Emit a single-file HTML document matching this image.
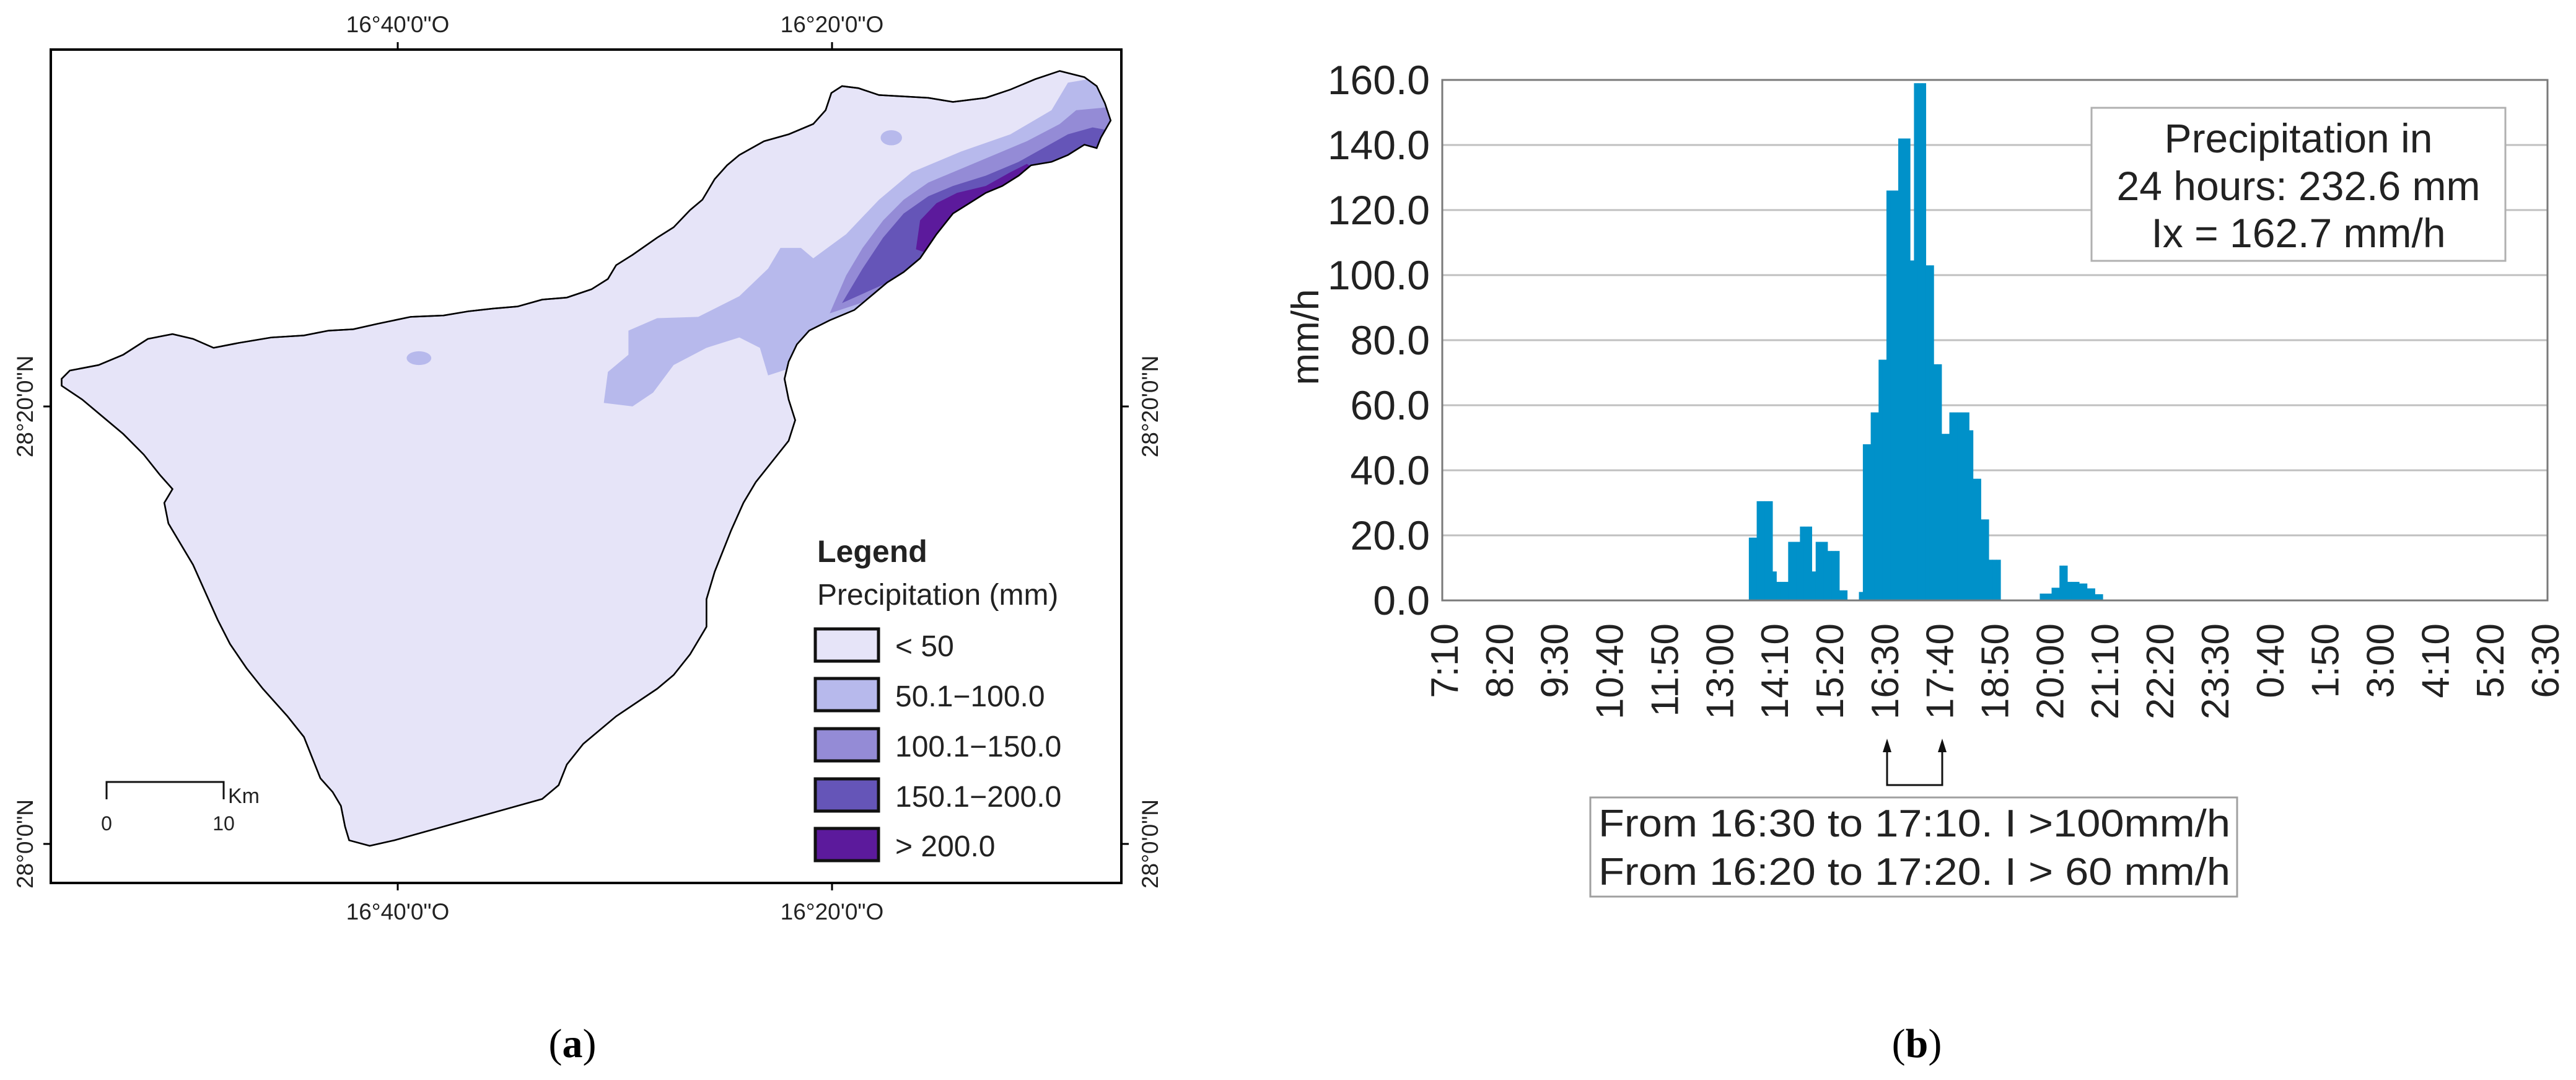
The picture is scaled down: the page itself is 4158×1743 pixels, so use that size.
<!DOCTYPE html>
<html><head><meta charset="utf-8"><style>
html,body{margin:0;padding:0;background:#fff;}
svg{display:block;font-family:"Liberation Sans",Arial,sans-serif;}
</style></head><body>
<svg id="root" width="4158" height="1743" viewBox="0 0 4158 1743" xmlns="http://www.w3.org/2000/svg">
<rect x="0" y="0" width="4158" height="1743" fill="#fff"/>
<defs>
<clipPath id="islandClip"><path id="islandShapeClip" d=""/></clipPath>
</defs>
<g>
  <g transform="scale(1.326,1.1116)">
    <path id="island" fill="#e6e4f8" stroke="#000" stroke-width="2.5" vector-effect="non-scaling-stroke" d=""/>
    <g clip-path="url(#islandClip)">
      <polygon fill="#b7b9ec" points="735,585 740,540 765,515 765,480 800,462 850,460 900,430 935,390 950,360 975,360 990,375 1030,340 1070,290 1110,250 1170,220 1230,195 1280,160 1300,120 1400,100 1400,300 1000,520 935,545 925,505 900,490 860,505 820,530 795,570 770,590"/>
      <ellipse fill="#b7b9ec" cx="1085" cy="200" rx="13" ry="11"/>
      <ellipse fill="#b7b9ec" cx="510" cy="520" rx="15" ry="10"/>
      <polygon fill="#948bd6" points="1010,455 1030,400 1050,360 1075,320 1100,290 1130,265 1170,245 1210,225 1250,205 1290,180 1310,160 1400,150 1400,300"/>
      <polygon fill="#6555b8" points="1025,440 1050,390 1075,345 1100,310 1130,285 1160,270 1200,255 1240,235 1270,215 1300,195 1330,185 1400,200 1400,300 1100,400"/>
      <polygon fill="#5c1a9c" points="1115,362 1120,320 1140,295 1165,280 1200,270 1230,250 1250,238 1268,252 1240,270 1210,285 1180,300 1160,320 1140,350 1130,368"/>
    </g>
    <path id="islandStroke" fill="none" stroke="#000" stroke-width="2.5" vector-effect="non-scaling-stroke" d=""/>
  </g>
  <rect x="82" y="80" width="1728" height="1345" fill="none" stroke="#000" stroke-width="4"/>
  <g stroke="#000" stroke-width="3">
    <line x1="642" y1="80" x2="642" y2="68"/><line x1="1343" y1="80" x2="1343" y2="68"/>
    <line x1="642" y1="1425" x2="642" y2="1437"/><line x1="1343" y1="1425" x2="1343" y2="1437"/>
    <line x1="82" y1="656" x2="70" y2="656"/><line x1="82" y1="1362" x2="70" y2="1362"/>
    <line x1="1810" y1="656" x2="1822" y2="656"/><line x1="1810" y1="1362" x2="1822" y2="1362"/>
  </g>
  <g font-size="37" fill="#222" text-anchor="middle">
    <text x="642" y="52">16°40'0"O</text>
    <text x="1343" y="52">16°20'0"O</text>
    <text x="642" y="1484">16°40'0"O</text>
    <text x="1343" y="1484">16°20'0"O</text>
    <text transform="translate(53,656) rotate(-90)">28°20'0"N</text>
    <text transform="translate(53,1362) rotate(-90)">28°0'0"N</text>
    <text transform="translate(1869,656) rotate(-90)">28°20'0"N</text>
    <text transform="translate(1869,1362) rotate(-90)">28°0'0"N</text>
  </g>
  <g fill="#222">
    <text x="1319" y="907" font-size="50" font-weight="bold">Legend</text>
    <text x="1319" y="976" font-size="48">Precipitation (mm)</text>
    <rect x="1316" y="1015" width="102" height="52" fill="#e6e4f8" stroke="#111" stroke-width="5"/>
    <rect x="1316" y="1095" width="102" height="52" fill="#b7b9ec" stroke="#111" stroke-width="5"/>
    <rect x="1316" y="1176" width="102" height="52" fill="#948bd6" stroke="#111" stroke-width="5"/>
    <rect x="1316" y="1257" width="102" height="52" fill="#6555b8" stroke="#111" stroke-width="5"/>
    <rect x="1316" y="1337" width="102" height="52" fill="#5c1a9c" stroke="#111" stroke-width="5"/>
    <text x="1445" y="1059" font-size="48">&lt; 50</text>
    <text x="1445" y="1140" font-size="48">50.1−100.0</text>
    <text x="1445" y="1221" font-size="48">100.1−150.0</text>
    <text x="1445" y="1302" font-size="48">150.1−200.0</text>
    <text x="1445" y="1382" font-size="48">&gt; 200.0</text>
  </g>
  <g fill="#222">
    <polyline points="172,1290 172,1262 361,1262 361,1290" fill="none" stroke="#111" stroke-width="3"/>
    <text x="368" y="1296" font-size="34">Km</text>
    <text x="172" y="1340" font-size="32" text-anchor="middle">0</text>
    <text x="361" y="1340" font-size="32" text-anchor="middle">10</text>
  </g>
  <text x="924" y="1706" font-size="66" text-anchor="middle" font-family="Liberation Serif,serif">(<tspan font-weight="bold">a</tspan>)</text>
</g>

<g id="chart"></g>
<text x="3094" y="1706" font-size="66" text-anchor="middle" font-family="Liberation Serif,serif">(<tspan font-weight="bold">b</tspan>)</text>
</svg>
<script>
var coast = [[75,550],[85,538],[120,530],[150,515],[180,492],[210,485],[235,492],[260,505],[290,498],[330,490],[370,487],[400,480],[430,478],[460,470],[500,460],[540,458],[570,452],[600,448],[630,445],[660,435],[690,432],[720,420],[740,405],[750,385],[770,370],[800,345],[820,330],[840,305],[855,290],[870,260],[885,240],[900,225],[930,205],[960,195],[990,180],[1005,160],[1012,135],[1025,125],[1045,128],[1070,138],[1100,140],[1130,142],[1160,148],[1200,142],[1230,130],[1260,115],[1290,103],[1320,112],[1335,125],[1345,150],[1352,175],[1340,200],[1335,215],[1320,210],[1300,225],[1280,235],[1255,240],[1240,255],[1220,270],[1200,280],[1180,295],[1160,310],[1140,340],[1120,375],[1100,395],[1080,410],[1060,430],[1040,450],[1010,465],[985,480],[970,500],[960,525],[955,550],[960,580],[968,610],[960,640],[940,670],[920,700],[905,730],[890,770],[880,800],[870,830],[860,870],[860,910],[840,950],[820,980],[800,1000],[775,1020],[750,1040],[730,1060],[710,1080],[690,1110],[680,1140],[660,1160],[630,1170],[600,1180],[570,1190],[540,1200],[510,1210],[480,1220],[450,1228],[425,1220],[420,1200],[415,1170],[405,1150],[390,1130],[380,1100],[370,1070],[350,1040],[320,1000],[300,970],[280,935],[265,900],[250,860],[235,820],[220,790],[205,760],[200,730],[210,710],[195,690],[175,660],[150,630],[125,605],[100,580],[75,560]];
var dPath = 'M' + coast.map(function(p){return p[0]+','+p[1];}).join(' L') + ' Z';
document.getElementById('island').setAttribute('d', dPath);
document.getElementById('islandStroke').setAttribute('d', dPath);
document.getElementById('islandShapeClip').setAttribute('d', dPath);

var yTicks = [0,20,40,60,80,100,120,140,160];
var xTickLabels = ["7:10","8:20","9:30","10:40","11:50","13:00","14:10","15:20","16:30","17:40","18:50","20:00","21:10","22:20","23:30","0:40","1:50","3:00","4:10","5:20","6:30"];
var binMinutes = 5;
var firstBinMinute = 387.5;
var rainRate = [19.3,19.3,30.5,30.5,30.5,30.5,8.9,5.7,5.7,5.7,18,18,18,22.7,22.7,22.7,8.9,18,18,18,15.2,15.2,15.2,3.1,3.1,0,0,0,2.6,48,48,57.8,57.8,74,74,126,126,126,142,142,142,104.5,159,159,159,103,103,72.6,72.6,51.2,51.2,57.8,57.8,57.8,57.8,57.8,52.3,37.4,37.4,24.9,24.9,12.5,12.5,12.5,0,0,0,0,0,0,0,0,0,0,2.1,2.1,2.1,3.9,3.9,10.7,10.7,5.7,5.7,5.7,5.2,5.2,3.7,3.7,1.9,1.9];

var NS = 'http://www.w3.org/2000/svg';
var chart = document.getElementById('chart');
var PL = 2328, PR = 4112, PT = 129, PB = 969;
var X0 = 2331, XSPAN = 1400, XW = 4108 - 2331;
var YMAX = 160;
function xs(m){ return X0 + m * XW / XSPAN; }
function ys(v){ return PB - v * (PB - PT) / YMAX; }
function mk(tag, attrs){ var e = document.createElementNS(NS, tag); for (var k in attrs) e.setAttribute(k, attrs[k]); return e; }

yTicks.forEach(function(v){
  if (v > 0) {
    var g = mk('line', {x1:PL, x2:PR, y1:ys(v), y2:ys(v), stroke:'#c0c0c0', 'stroke-width':3});
    
    
    chart.appendChild(g);
  }
  var t = mk('text', {x:2308, y:ys(v)+23, 'font-size':66, 'text-anchor':'end', fill:'#222'});
  t.textContent = v.toFixed(1);
  
  
  chart.appendChild(t);
});

rainRate.forEach(function(v, i){
  if (v <= 0) return;
  var m0 = firstBinMinute + i * binMinutes;
  var x0 = xs(m0), x1 = xs(m0 + binMinutes);
  var r = mk('rect', {x:x0, y:ys(v), width:(x1-x0)+0.6, height:PB-ys(v), fill:'#0091c9'});
  
  
  chart.appendChild(r);
});

var fr = mk('rect', {x:PL, y:PT, width:PR-PL, height:PB-PT, fill:'none', stroke:'#7a7a7a', 'stroke-width':3});


chart.appendChild(fr);

xTickLabels.forEach(function(lab, i){
  var x = xs(i * 70);
  var t = mk('text', {'font-size':62, 'text-anchor':'end', fill:'#222', transform:'translate(' + (x + 22) + ',1006) rotate(-90)'});
  t.textContent = lab;
  
  
  chart.appendChild(t);
});

var yt = mk('text', {'font-size':62, 'text-anchor':'middle', fill:'#222', transform:'translate(2128,544) rotate(-90)'});
yt.textContent = 'mm/h';


chart.appendChild(yt);

var ib = mk('rect', {x:3376, y:174, width:668, height:247, fill:'#fff', stroke:'#b0b0b0', 'stroke-width':3});


chart.appendChild(ib);
['Precipitation in','24 hours: 232.6 mm','Ix = 162.7 mm/h'].forEach(function(s, i){
  var t = mk('text', {x:3710, y:[246,323,399][i], 'font-size':66, 'text-anchor':'middle', fill:'#222'});
  t.textContent = s;
  
  
  chart.appendChild(t);
});

var ar = mk('path', {d:'M3046,1200 L3046,1267 L3135,1267 L3135,1200', fill:'none', stroke:'#111', 'stroke-width':3});


chart.appendChild(ar);
[3046,3135].forEach(function(x){
  var h = mk('polygon', {points:(x-7)+',1214 '+x+',1192 '+(x+7)+',1214', fill:'#111'});
  
  
  chart.appendChild(h);
});
var ab = mk('rect', {x:2567, y:1287, width:1044, height:160, fill:'#fff', stroke:'#a0a0a0', 'stroke-width':3});


chart.appendChild(ab);
['From 16:30 to 17:10. I >100mm/h','From 16:20 to 17:20. I > 60 mm/h'].forEach(function(s, i){
  var t = mk('text', {x:2580, y:[1350,1428][i], 'font-size':62, fill:'#222', textLength:1020, lengthAdjust:'spacingAndGlyphs'});
  t.textContent = s;
  
  
  chart.appendChild(t);
});
</script>
</body></html>
